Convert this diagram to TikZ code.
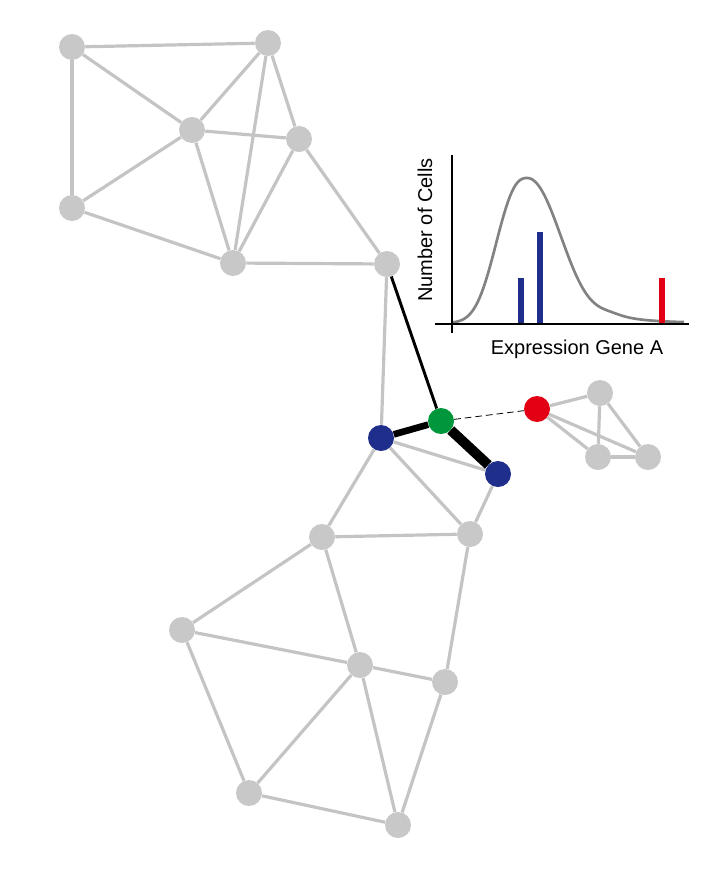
\documentclass[tikz,border=0pt]{standalone}
\usepackage{fontspec}
\setmainfont{Liberation Sans}
\definecolor{ngray}{RGB}{200,200,200}
\definecolor{egray}{RGB}{196,196,196}
\definecolor{nblue}{RGB}{31,46,138}
\definecolor{ngreen}{RGB}{0,150,60}
\definecolor{nred}{RGB}{228,0,20}
\definecolor{cgray}{RGB}{130,130,130}
\tikzset{
  gn/.style={circle,fill=ngray,minimum size=19.5pt,inner sep=0pt},
  bn/.style={gn,fill=nblue},
  grn/.style={gn,fill=ngreen},
  rn/.style={gn,fill=nred},
  ed/.style={draw=egray,line width=2.4pt},
  lbl/.style={font=\fontsize{15}{17}\selectfont,inner sep=0pt},
  declare function={
    hl(\d)=145*exp(-(abs(\d)/37.9)^2.5);
    hr(\d)=145*exp(-(abs(\d)/46.5)^2.1)+94*exp(-abs(\d)/34)*(1-exp(-(abs(\d)/78)^8));
    hc(\d)=(\d<0)*hl(\d)+(\d>0)*hr(\d);
  }
}
\begin{document}
\begin{tikzpicture}[x=0.75pt,y=-0.75pt]
\useasboundingbox (0,0) rectangle (701,886);
% top cluster
\node[gn] (a1) at (72,47) {};
\node[gn] (a2) at (268,43) {};
\node[gn] (a3) at (192,130) {};
\node[gn] (a4) at (299,139) {};
\node[gn] (a5) at (72,208) {};
\node[gn] (a6) at (233,263) {};
\node[gn] (a7) at (387,264) {};
% middle
\node[bn] (b1) at (381,438) {};
\node[grn] (g) at (441,421) {};
\node[bn] (b2) at (498,474) {};
\node[rn] (r) at (537,409) {};
\node[gn] (s1) at (600,393) {};
\node[gn] (s2) at (598,457) {};
\node[gn] (s3) at (648,457) {};
% bottom cluster
\node[gn] (c1) at (322,537) {};
\node[gn] (c2) at (470,534) {};
\node[gn] (d1) at (182,630) {};
\node[gn] (d2) at (360,665) {};
\node[gn] (d3) at (445,682) {};
\node[gn] (d4) at (249,793) {};
\node[gn] (d5) at (398,825) {};
% gray edges
\foreach \u/\v in {a1/a2,a1/a3,a1/a5,a2/a3,a2/a6,a2/a4,a3/a4,a3/a5,a3/a6,a4/a6,a4/a7,a5/a6,a6/a7,
  a7/b1,b1/b2,b1/c1,b1/c2,b2/c2,
  r/s1,r/s2,r/s3,s1/s2,s1/s3,s2/s3,
  c1/c2,c1/d1,c1/d2,c2/d3,d1/d2,d1/d4,d2/d3,d2/d4,d2/d5,d3/d5,d4/d5}
  \draw[ed] (\u) -- (\v);
% black edges
\draw[black,line width=2.2pt] (a7) -- (g);
\draw[black,line width=5pt] (b1) -- (g);
\draw[black,line width=7.5pt] (g) -- (b2);
\draw[black,line width=0.6pt,dash pattern=on 5pt off 3pt] (g) -- (r);
% inset chart
\coordinate (yt) at (452,155);
\coordinate (yb) at (452,333);
\coordinate (xl) at (435,324);
\coordinate (xr) at (689,324);
\draw[cgray,line width=2pt,line join=round] plot[domain=452:684,samples=117]
  (\x,{323-hc(\x-527)});
\fill[nblue] (518,324) rectangle (524,278);
\fill[nblue] (537,324) rectangle (543,232);
\fill[nred] (659,324) rectangle (665,278);
\draw[black,line width=2.2pt] (yt) -- (yb);
\draw[black,line width=2.2pt] (xl) -- (xr);
\node[lbl] (xlab) at (577,349) {Expression Gene A};
\node[lbl,rotate=90] (ylab) at (425,230) {Number of Cells};
\end{tikzpicture}
\end{document}
